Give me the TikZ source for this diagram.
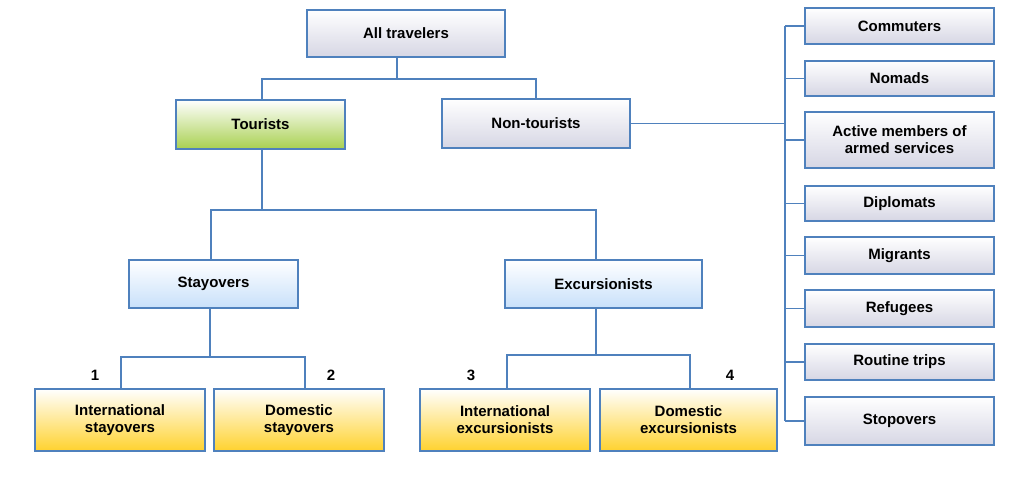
\documentclass[tikz,border=0pt]{standalone}
\usepackage{fontspec}
\setmainfont{Liberation Sans}
\begin{document}
\begin{tikzpicture}[x=1pt,y=-1pt,
  box/.style={draw=blue!45!cyan!60!black, draw=boxline, line width=1.8pt, inner sep=0pt, align=center,
    font=\fontsize{15}{17}\selectfont\bfseries, text=black},
  gray/.style={box, top color=white, bottom color=graybot},
  green/.style={box, top color=white, bottom color=greenbot},
  blue/.style={box, top color=white, bottom color=bluebot},
  yellow/.style={box, top color=white, bottom color=yellowbot},
  ln/.style={draw=boxline, line width=1.6pt},
  num/.style={font=\fontsize{15}{17}\selectfont\bfseries}]
\definecolor{boxline}{HTML}{4F81BD}
\definecolor{graybot}{HTML}{D6D6E4}
\definecolor{greenbot}{HTML}{A8D050}
\definecolor{bluebot}{HTML}{C8E0FA}
\definecolor{yellowbot}{HTML}{FFD22E}
\useasboundingbox (0,0) rectangle (1022,481);
\def\bx#1#2#3#4#5#6#7{\node[#2, minimum width=#5-#3, minimum height=#6-#4] (#1) at ({(#3+#5)/2},{(#4+#6)/2}) {#7};}
\bx{all}{gray}{307}{10}{505}{57}{All travelers}
\bx{tour}{green}{176}{100}{345}{149}{Tourists}
\bx{non}{gray}{442}{99}{630}{148}{Non-tourists}
\bx{stay}{blue}{129}{260}{298}{308}{Stayovers}
\bx{exc}{blue}{505}{260}{702}{308}{Excursionists}
\bx{ist}{yellow}{35}{389}{205}{451}{International\\stayovers}
\bx{dst}{yellow}{214}{389}{384}{451}{Domestic\\stayovers}
\bx{iex}{yellow}{420}{389}{590}{451}{International\\excursionists}
\bx{dex}{yellow}{600}{389}{777}{451}{Domestic\\excursionists}
\bx{com}{gray}{805}{8}{994}{44}{Commuters}
\bx{nom}{gray}{805}{61}{994}{96}{Nomads}
\bx{act}{gray}{805}{112}{994}{168}{Active members of\\armed services}
\bx{dip}{gray}{805}{186}{994}{221}{Diplomats}
\bx{mig}{gray}{805}{237}{994}{274}{Migrants}
\bx{ref}{gray}{805}{290}{994}{327}{Refugees}
\bx{rou}{gray}{805}{344}{994}{380}{Routine trips}
\bx{sto}{gray}{805}{397}{994}{445}{Stopovers}
\coordinate (j1) at (397,79);
\coordinate (j2) at (262,210);
\coordinate (j3) at (210,357);
\coordinate (j4) at (596,355);
\coordinate (bus) at (785,0);
\draw[ln] (all.south -| j1) -- (j1);
\draw[ln] ([xshift=1.5pt]tour.north) |- (j1) -| (non.north);
\draw[ln] ([xshift=1.5pt]tour.south) -- (tour.south -| j2) -- (j2);
\draw[ln] ([xshift=-2.5pt]stay.north) |- (j2) -| ([xshift=-7.5pt]exc.north);
\draw[ln] (stay.south -| j3) -- (j3);
\draw[ln] ([xshift=1pt]ist.north) |- (j3) -| ([xshift=6pt]dst.north);
\draw[ln] (exc.south -| j4) -- (j4);
\draw[ln] ([xshift=2pt]iex.north) |- (j4) -| ([xshift=1.5pt]dex.north);
\draw[ln] (non.east) -- (non.east -| bus);
\draw[ln] (com.west -| bus) -- (sto.west -| bus);
\foreach \b in {com,nom,act,dip,mig,ref,rou,sto} \draw[ln] (\b.west -| bus) -- (\b.west);
\node[num] (n1) at (95,375) {1};
\node[num] (n2) at (331,375) {2};
\node[num] (n3) at (471,375) {3};
\node[num] (n4) at (730,375) {4};
\end{tikzpicture}
\end{document}
